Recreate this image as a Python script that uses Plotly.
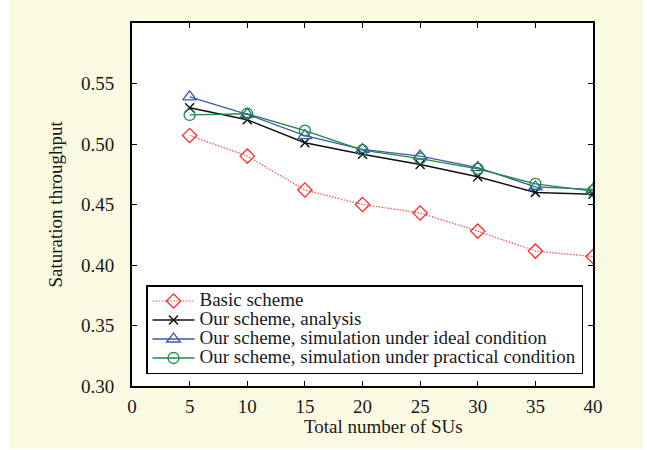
import plotly.graph_objects as go

x_sus = [5, 10, 15, 20, 25, 30, 35, 40]
basic = [0.507, 0.490, 0.462, 0.450, 0.443, 0.428, 0.4115, 0.407]
analysis = [0.530, 0.520, 0.501, 0.4915, 0.483, 0.473, 0.460, 0.4585]
sim_ideal = [0.539, 0.5245, 0.507, 0.4955, 0.490, 0.4805, 0.4645, 0.4625]
sim_practical = [0.524, 0.525, 0.511, 0.495, 0.488, 0.4795, 0.467, 0.461]
names = ["Basic scheme", "Our scheme, analysis",
         "Our scheme, simulation under ideal condition",
         "Our scheme, simulation under practical condition"]
y_ticks = [0.30, 0.35, 0.40, 0.45, 0.50, 0.55]
x_ticks = [0, 5, 10, 15, 20, 25, 30, 35, 40]

FONT = "Liberation Serif"
TXT = "#1a1a1a"
FS = 19

def lname(s):
    return '<span style="font-size:19px">' + s + '</span>'

fig = go.Figure()
fig.add_trace(go.Scatter(x=x_sus, y=basic, name=lname(names[0]), mode="lines+markers",
                         line=dict(color="#ff4a4a", width=1.2, dash="1.5px,1.5px"),
                         marker=dict(symbol="diamond-open", size=11, color="#ff2a2a", line=dict(width=1.3))))
fig.add_trace(go.Scatter(x=x_sus, y=analysis, name=lname(names[1]), mode="lines+markers",
                         line=dict(color="#111111", width=1.5),
                         marker=dict(symbol="x-thin-open", size=9, color="#111111", line=dict(width=1.5))))
fig.add_trace(go.Scatter(x=x_sus, y=sim_ideal, name=lname(names[2]), mode="lines+markers",
                         line=dict(color="#3a58b0", width=1.3),
                         marker=dict(symbol="triangle-up-open", size=12, color="#3a58b0", line=dict(width=1.3))))
fig.add_trace(go.Scatter(x=x_sus, y=sim_practical, name=lname(names[3]), mode="lines+markers",
                         line=dict(color="#1c8a45", width=1.3),
                         marker=dict(symbol="circle-open", size=11, color="#1c8a45", line=dict(width=1.3))))

L, R, T, B = 132, 54, 23, 64
pw, ph = 647 - L - R, 450 - T - B

fig.update_layout(
    width=647, height=450,
    margin=dict(l=L, r=R, t=T, b=B),
    paper_bgcolor="white", plot_bgcolor="white",
    font=dict(family=FONT, size=FS, color=TXT),
    showlegend=True,
    legend=dict(x=(146 - L) / pw, y=(386 - 285) / ph, xanchor="left", yanchor="top",
                bgcolor="white", bordercolor="black", borderwidth=1.5, itemwidth=42,
                font=dict(family=FONT, size=12.3, color=TXT), tracegroupgap=0),
    shapes=[
        dict(type="rect", xref="paper", yref="paper", layer="below",
             x0=(10 - L) / pw, x1=(643 - L) / pw, y0=(386 - 449) / ph, y1=(386 - 0) / ph,
             fillcolor="#faf9e1", line=dict(width=0)),
        dict(type="rect", xref="paper", yref="paper", layer="below",
             x0=0, x1=1, y0=0, y1=1, fillcolor="white", line=dict(width=0)),
    ],
    annotations=[
        dict(text="Total number of SUs", xref="paper", yref="paper",
             x=(383 - L) / pw, y=(386 - 427) / ph, xanchor="center", yanchor="middle",
             showarrow=False, font=dict(family=FONT, size=FS, color=TXT)),
        dict(text="Saturation throughput", xref="paper", yref="paper",
             x=(55 - L) / pw, y=0.5, xanchor="center", yanchor="middle", textangle=-90,
             showarrow=False, font=dict(family=FONT, size=FS, color=TXT)),
    ],
)
fig.update_xaxes(range=[0, 40], tickvals=x_ticks, ticks="inside", ticklen=5, tickwidth=1.2,
                 tickcolor="black", showline=True, linecolor="black", linewidth=1.8, mirror="ticks",
                 showgrid=False, zeroline=False, tickfont=dict(family=FONT, size=FS, color=TXT),
                 ticklabelstandoff=2)
fig.update_yaxes(range=[0.30, 0.60], tickvals=y_ticks, tickformat=".2f", ticks="inside", ticklen=5,
                 tickwidth=1.2, tickcolor="black", showline=True, linecolor="black", linewidth=1.8,
                 mirror="ticks", showgrid=False, zeroline=False,
                 tickfont=dict(family=FONT, size=FS, color=TXT), ticklabelstandoff=12)

fig.write_html("out.html", config={"displayModeBar": False},
               post_script="document.body.style.margin='0';document.body.style.overflow='hidden';")
